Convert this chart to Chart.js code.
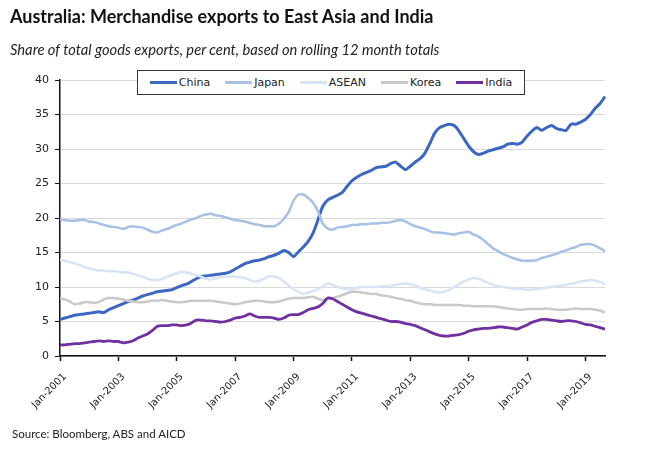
<!DOCTYPE html>
<html>
<head>
<meta charset="utf-8">
<script src="https://cdn.jsdelivr.net/npm/chart.js@4.4.1/dist/chart.umd.min.js"></script>
<style>
  html, body { margin: 0; padding: 0; background: #fff; }
  #wrap { position: relative; width: 650px; height: 455px; overflow: hidden; }
  #chart { position: absolute; left: 0; top: 0; }
  #title { position: absolute; left: 10px; top: 5px; font-family: Lato, "Open Sans", sans-serif; font-weight: bold; font-size: 18px; color: #111; white-space: nowrap; }
  #subtitle { position: absolute; left: 10px; top: 40px; font-family: Lato, "Open Sans", sans-serif; font-style: italic; font-size: 14.7px; color: #222; white-space: nowrap; }
  #source { position: absolute; left: 12px; top: 427px; font-family: Lato, "Open Sans", sans-serif; font-size: 11.5px; color: #222; white-space: nowrap; }
  #legend { position: absolute; left: 137px; top: 70px; width: 386px; height: 23px; border: 1px solid #333; background: #fff;
            display: flex; align-items: center; justify-content: center; gap: 15px;
            font-family: "DejaVu Sans", Verdana, sans-serif; font-size: 11px; color: #222; }
  .item { display: flex; align-items: center; white-space: nowrap; }
  .swatch { width: 27px; height: 3px; margin-right: 2px; }
</style>
</head>
<body>
<div id="wrap">
  <canvas id="chart" width="650" height="455"></canvas>
  <div id="title">Australia: Merchandise exports to East Asia and India</div>
  <div id="subtitle">Share of total goods exports, per cent, based on rolling 12 month totals</div>
  <div id="legend"></div>
  <div id="source">Source: Bloomberg, ABS and AICD</div>
</div>
<script>
// ---- Data (bimonthly readings, Jan-2001 to Sep-2019) ----
const monthNames = ['Jan','Mar','May','Jul','Sep','Nov'];
const firstYear = 2001;
const pointCount = 113;
const categories = [];
for (let i = 0; i < pointCount; i++) {
  categories.push(monthNames[i % 6] + '-' + (firstYear + Math.floor(i / 6)));
}
const tickLabels = ['Jan-2001','Jan-2003','Jan-2005','Jan-2007','Jan-2009','Jan-2011','Jan-2013','Jan-2015','Jan-2017','Jan-2019'];
const seriesNames = ['China','Japan','ASEAN','Korea','India'];

const china = [
  5.3, 5.5, 5.7, 5.9, 6.0, 6.1,
  6.2, 6.3, 6.4, 6.3, 6.7, 7.0,
  7.3, 7.6, 7.9, 8.1, 8.4, 8.7,
  8.9, 9.1, 9.3, 9.4, 9.5, 9.6,
  9.9, 10.2, 10.4, 10.8, 11.2, 11.5,
  11.6, 11.7, 11.8, 11.9, 12.0, 12.2,
  12.6, 13.0, 13.4, 13.6, 13.8, 13.9,
  14.1, 14.4, 14.6, 14.9, 15.3, 15.0,
  14.4, 15.1, 15.8, 16.6, 17.8, 19.7,
  21.7, 22.6, 23.0, 23.3, 23.7, 24.6,
  25.4, 25.9, 26.3, 26.6, 26.9, 27.3,
  27.4, 27.5, 27.9, 28.1, 27.5, 27.0,
  27.5, 28.1, 28.6, 29.4, 30.8, 32.3,
  33.1, 33.4, 33.6, 33.4, 32.6, 31.5,
  30.4, 29.6, 29.2, 29.4, 29.7, 29.9,
  30.1, 30.3, 30.7, 30.8, 30.7, 31.0,
  31.9, 32.6, 33.1, 32.7, 33.1, 33.4,
  33.0, 32.8, 32.7, 33.6, 33.6, 33.9,
  34.3, 35.0, 35.9, 36.6, 37.6
];
const japan = [
  19.8, 19.7, 19.6, 19.6, 19.7, 19.7,
  19.5, 19.4, 19.2, 19.0, 18.8, 18.7,
  18.6, 18.4, 18.7, 18.8, 18.7, 18.6,
  18.3, 18.0, 17.9, 18.2, 18.4, 18.7,
  19.0, 19.2, 19.5, 19.8, 20.0, 20.3,
  20.5, 20.6, 20.4, 20.3, 20.1, 19.9,
  19.7, 19.6, 19.5, 19.3, 19.1, 19.0,
  18.8, 18.8, 18.8, 19.2, 19.9, 20.9,
  22.5, 23.4, 23.4, 22.9, 22.2, 21.0,
  19.2, 18.5, 18.3, 18.6, 18.7, 18.8,
  19.0, 19.0, 19.1, 19.1, 19.2, 19.2,
  19.3, 19.3, 19.4, 19.6, 19.7, 19.5,
  19.1, 18.8, 18.6, 18.4, 18.1, 17.9,
  17.9, 17.8, 17.7, 17.6, 17.8, 17.9,
  18.0, 17.6, 17.3, 16.8, 16.2, 15.6,
  15.2, 14.8, 14.5, 14.2, 14.0, 13.8,
  13.8, 13.8, 13.9, 14.2, 14.4, 14.6,
  14.8, 15.1, 15.3, 15.6, 15.8, 16.1,
  16.2, 16.2, 16.0, 15.6, 15.2
];
const asean = [
  14.0, 13.8, 13.6, 13.4, 13.2, 12.9,
  12.7, 12.5, 12.4, 12.4, 12.3, 12.3,
  12.2, 12.1, 12.1, 11.9, 11.7, 11.5,
  11.2, 11.0, 11.0, 11.2, 11.5, 11.7,
  12.0, 12.2, 12.1, 11.9, 11.7, 11.5,
  11.2, 11.1, 11.3, 11.4, 11.5, 11.5,
  11.5, 11.4, 11.3, 11.0, 10.8, 10.9,
  11.2, 11.6, 11.5, 11.3, 10.8, 10.2,
  9.7, 9.3, 9.0, 9.2, 9.4, 9.7,
  10.1, 10.5, 10.3, 10.0, 9.8, 9.7,
  9.7, 9.9, 10.0, 10.0, 10.0, 10.0,
  10.1, 10.1, 10.2, 10.3, 10.4, 10.5,
  10.4, 10.2, 9.9, 9.7, 9.5, 9.3,
  9.2, 9.3, 9.6, 10.0, 10.4, 10.8,
  11.1, 11.3, 11.2, 10.9, 10.6, 10.3,
  10.1, 10.0, 9.9, 9.8, 9.7, 9.7,
  9.6, 9.6, 9.7, 9.8, 9.9, 10.0,
  10.1, 10.2, 10.3, 10.5, 10.6, 10.8,
  10.9, 11.0, 10.9, 10.7, 10.4
];
const korea = [
  8.4, 8.2, 7.9, 7.5, 7.6, 7.8,
  7.8, 7.7, 7.8, 8.2, 8.4, 8.4,
  8.3, 8.2, 8.0, 7.9, 7.8, 7.8,
  7.9, 8.0, 8.0, 8.1, 8.0, 7.9,
  7.8, 7.8, 7.9, 8.0, 8.0, 8.0,
  8.0, 8.0, 7.9, 7.8, 7.7, 7.6,
  7.5, 7.6, 7.8, 7.9, 8.0, 8.0,
  7.9, 7.8, 7.8, 7.9, 8.1, 8.3,
  8.4, 8.4, 8.4, 8.5, 8.6, 8.3,
  8.1, 8.3, 8.4, 8.6, 8.8, 9.1,
  9.3, 9.3, 9.2, 9.1, 9.0, 9.0,
  8.8, 8.7, 8.6, 8.4, 8.3, 8.1,
  8.0, 7.8, 7.6, 7.5, 7.5, 7.4,
  7.4, 7.4, 7.4, 7.4, 7.4, 7.3,
  7.3, 7.2, 7.2, 7.2, 7.2, 7.2,
  7.1, 7.0, 6.9, 6.8, 6.7, 6.7,
  6.8, 6.8, 6.8, 6.8, 6.9, 6.8,
  6.7, 6.7, 6.7, 6.8, 6.9, 6.8,
  6.8, 6.8, 6.7, 6.6, 6.3
];
const india = [
  1.6, 1.6, 1.7, 1.8, 1.8, 1.9,
  2.0, 2.1, 2.2, 2.1, 2.2, 2.1,
  2.1, 1.9, 2.0, 2.2, 2.6, 2.9,
  3.2, 3.7, 4.3, 4.4, 4.4, 4.5,
  4.5, 4.4, 4.5, 4.8, 5.2, 5.2,
  5.1, 5.1, 5.0, 4.9, 5.0, 5.2,
  5.5, 5.6, 5.8, 6.1, 5.8, 5.6,
  5.6, 5.6, 5.5, 5.3, 5.5, 5.9,
  6.0, 6.0, 6.3, 6.7, 6.9, 7.1,
  7.6, 8.4, 8.3, 7.9, 7.5, 7.1,
  6.7, 6.4, 6.2, 6.0, 5.8, 5.6,
  5.4, 5.2, 5.0, 5.0, 4.9, 4.7,
  4.6, 4.4, 4.1, 3.8, 3.5, 3.2,
  3.0, 2.9, 2.9, 3.0, 3.1, 3.3,
  3.6, 3.8, 3.9, 4.0, 4.0, 4.1,
  4.2, 4.2, 4.1, 4.0, 3.9, 4.2,
  4.5, 4.9, 5.1, 5.3, 5.3, 5.2,
  5.1, 5.0, 5.1, 5.1, 5.0, 4.8,
  4.6, 4.5, 4.3, 4.1, 3.9
];
const yTickLabels = [0, 5, 10, 15, 20, 25, 30, 35, 40];

// ---- Styles ----
const seriesValues = [china, japan, asean, korea, india];
const seriesColors = ['#3b67c1', '#a8c0e6', '#d6e4f6', '#c9c9c9', '#7030a0'];
const seriesWidths = [3, 2.5, 2.5, 2.5, 2.8];
const yFont = { family: '"DejaVu Sans", Verdana, sans-serif', size: 11 };
const xFont = { family: '"DejaVu Sans", Verdana, sans-serif', size: 10 };

const datasets = seriesNames.map((name, i) => ({
  label: name,
  data: seriesValues[i],
  borderColor: seriesColors[i],
  backgroundColor: seriesColors[i],
  borderWidth: seriesWidths[i],
  pointRadius: 0,
  tension: 0.2,
  fill: false,
  order: seriesNames.length - i
}));

const chart = new Chart(document.getElementById('chart'), {
  type: 'line',
  data: { labels: categories, datasets },
  options: {
    responsive: false,
    animation: false,
    layout: { padding: { left: 20, right: 45, top: 80, bottom: 39 } },
    plugins: { legend: { display: false }, tooltip: { enabled: false }, title: { display: false } },
    scales: {
      x: {
        type: 'category',
        offset: false,
        border: { color: '#111', width: 1.5 },
        grid: { drawOnChartArea: false, drawTicks: true, tickLength: 5, tickColor: '#111', tickWidth: 1.5 },
        ticks: { autoSkip: false, minRotation: 45, maxRotation: 45, padding: 10, labelOffset: 5, color: '#222', font: xFont,
                 callback: function (v) { return this.getLabelForValue(v); } },
        afterBuildTicks: s => { s.ticks = s.ticks.filter(t => tickLabels.includes(categories[t.value])); },
        afterFit: s => { s.height = 60; }
      },
      y: {
        min: yTickLabels[0],
        max: yTickLabels[yTickLabels.length - 1],
        border: { color: '#111', width: 1.5 },
        grid: { color: '#d9d9d9', lineWidth: 1, tickLength: 5, tickColor: '#111' },
        ticks: { stepSize: 5, padding: 6, color: '#222', font: yFont },
        afterFit: s => { s.width = 40; }
      }
    }
  }
});

// ---- HTML legend built from the chart's datasets ----
const legendEl = document.getElementById('legend');
chart.data.datasets.forEach(ds => {
  const item = document.createElement('div');
  item.className = 'item';
  const sw = document.createElement('span');
  sw.className = 'swatch';
  sw.style.background = ds.borderColor;
  const tx = document.createElement('span');
  tx.textContent = ds.label;
  item.appendChild(sw);
  item.appendChild(tx);
  legendEl.appendChild(item);
});
</script>
</body>
</html>
